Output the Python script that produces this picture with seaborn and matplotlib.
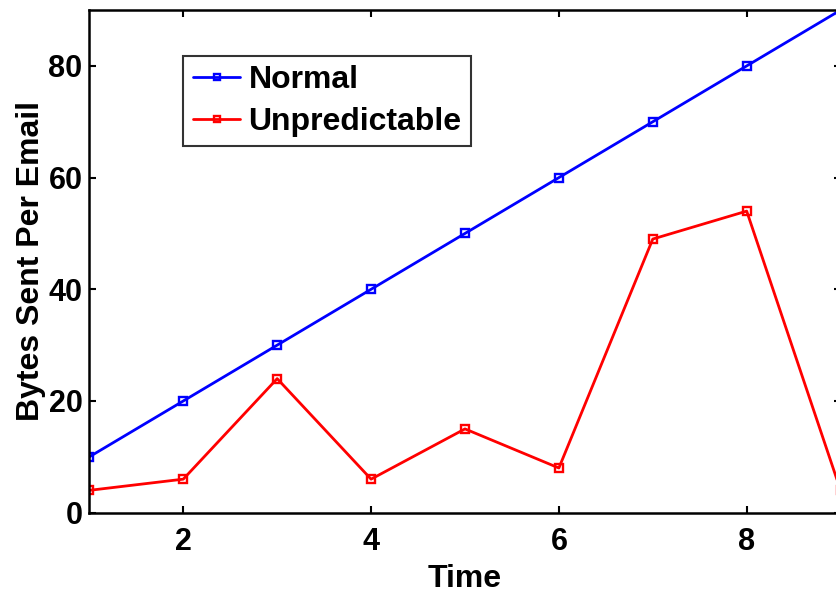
import pandas as pd
import matplotlib.pyplot as plt
import seaborn as sns

# values
time = [1, 2, 3, 4, 5, 6, 7, 8, 9]
normal = [10, 20, 30, 40, 50, 60, 70, 80, 90]
unpredictable = [4, 6, 24, 6, 15, 8, 49, 54, 4]
series_names = ["Normal", "Unpredictable"]
x_ticks = [2, 4, 6, 8]
y_ticks = [0, 20, 40, 60, 80]

sns.set_style("ticks")
plt.rcParams["font.family"] = ["Liberation Sans", "DejaVu Sans"]
plt.rcParams["font.weight"] = "bold"
plt.rcParams["text.color"] = "black"
plt.rcParams["xtick.color"] = "black"
plt.rcParams["ytick.color"] = "black"
plt.rcParams["axes.labelcolor"] = "black"

df = pd.DataFrame({
    "Time": time * 2,
    "Bytes": normal + unpredictable,
    "Series": [series_names[0]] * len(time) + [series_names[1]] * len(time),
})

fig = plt.figure(figsize=(8.36, 5.92), dpi=100)
ax = fig.add_axes([0.1069, 0.134, 0.8986, 0.849])

sns.lineplot(
    data=df, x="Time", y="Bytes", hue="Series", style="Series",
    palette={"Normal": "#0000ff", "Unpredictable": "#ff0000"},
    markers={"Normal": "s", "Unpredictable": "s"}, dashes=False,
    markersize=6, markerfacecolor="none", markeredgewidth=1.7,
    linewidth=2, ax=ax,
)
for line in ax.get_lines():
    line.set_markeredgecolor(line.get_color())
    line.set_markerfacecolor("none")

ax.set_xlim(1, 9)
ax.set_ylim(0, 90)
ax.set_xticks(x_ticks)
ax.set_yticks(y_ticks)
ax.tick_params(direction="in", length=5, width=1.5, top=True, right=True,
               labelsize=22)
ax.tick_params(axis="x", pad=10)
ax.tick_params(axis="y", pad=5)
for lab in ax.get_xticklabels() + ax.get_yticklabels():
    lab.set_fontweight("bold")
for s in ax.spines.values():
    s.set_linewidth(1.8)
    s.set_color("black")

ax.set_xlabel("Time", fontsize=23, fontweight="bold", labelpad=5)
ax.set_ylabel("Bytes Sent Per Email", fontsize=23, fontweight="bold", labelpad=2)

leg = ax.legend(loc="upper left", bbox_to_anchor=(0.1246, 0.909),
                borderaxespad=0, fontsize=23, handlelength=1.5,
                handletextpad=0.25, labelspacing=0.36, borderpad=0.3,
                frameon=True, fancybox=False, edgecolor="black")
leg.get_frame().set_linewidth(1.5)
for t in leg.get_texts():
    t.set_fontweight("bold")
for h in leg.get_lines():
    h.set_markerfacecolor("none")
    h.set_markeredgecolor(h.get_color())
    h.set_markersize(4.5)

fig.savefig("out.png", dpi=100)
